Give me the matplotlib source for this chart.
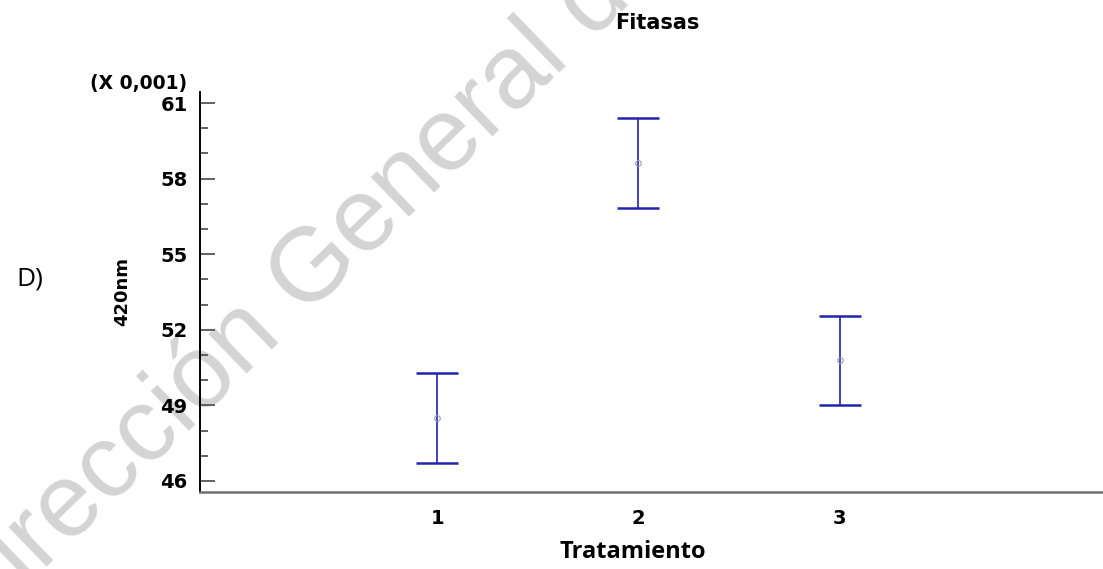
import matplotlib.pyplot as plt

# data (units of 0.001 absorbance at 420 nm)
tratamiento = [1, 2, 3]
media = [48.50, 58.62, 50.80]
inferior = [46.71, 56.83, 49.02]
superior = [50.29, 60.40, 52.55]
etiquetas = ["1", "2", "3"]
y_mayores = [46, 49, 52, 55, 58, 61]
y_menores = list(range(46, 62))

err_lo = [m - lo for m, lo in zip(media, inferior)]
err_hi = [hi - m for m, hi in zip(media, superior)]

W, H = 1103, 569
fig = plt.figure(figsize=(W / 100, H / 100), dpi=100)

# watermark behind everything
fig.text(-28 / W, 1 - 640 / H, "Dirección General de Bibliotecas", family="Liberation Sans",
         fontsize=75, color="#d4d4d4", rotation=44, rotation_mode="anchor",
         ha="left", va="baseline", zorder=0)

ax = fig.add_axes([200 / W, (H - 492) / H, 1 - 200 / W, (492 - 92) / H])
ax.patch.set_alpha(0)
ax.set_zorder(2)

line, caps, bars = ax.errorbar(tratamiento, media, yerr=[err_lo, err_hi], fmt="o",
                               ms=4, mfc="none", mec="#9a9ab8", mew=0.8,
                               ecolor="#2323b0", elinewidth=1.2, capsize=15)
for c in caps:
    c.set_color("#6e6ed8")
    c.set_markeredgewidth(1.8)

ax.set_xlim(-0.18, 4.31)
ax.set_ylim(45.56, 61.44)

ax.set_yticks(y_mayores)
ax.set_yticks(y_menores, minor=True)
ax.set_xticks(tratamiento)
ax.set_xticklabels(etiquetas)

for s in ["top", "right"]:
    ax.spines[s].set_visible(False)
ax.spines["left"].set_linewidth(1.4)
ax.spines["left"].set_color("black")
ax.spines["bottom"].set_linewidth(1.8)
ax.spines["bottom"].set_color("#707070")

ax.tick_params(axis="y", which="major", direction="in", length=11, width=1.3,
               color="#555555", pad=9)
ax.tick_params(axis="y", which="minor", direction="in", length=5.5, width=1.3,
               color="#555555")
ax.tick_params(axis="x", length=0, pad=12)
for lab in ax.get_xticklabels() + ax.get_yticklabels():
    lab.set_fontfamily("DejaVu Sans")
    lab.set_fontweight("bold")
    lab.set_fontsize(14)

fig.text(657 / W, 1 - 23 / H, "Fitasas", family="DejaVu Sans", weight="bold",
         fontsize=15, ha="center", va="center")
fig.text(187 / W, 1 - 84 / H, "(X 0,001)", family="DejaVu Sans", weight="bold",
         fontsize=13.5, ha="right", va="center")
fig.text(122 / W, 1 - 292 / H, "420nm", family="DejaVu Sans", weight="bold",
         fontsize=13, rotation=90, ha="center", va="center")
fig.text(30 / W, 1 - 279 / H, "D)", family="Open Sans", fontsize=19,
         ha="center", va="center")
fig.text(633 / W, 1 - 552 / H, "Tratamiento", family="Open Sans", weight="bold",
         fontsize=17, ha="center", va="center")

fig.savefig("out.png", dpi=100)
